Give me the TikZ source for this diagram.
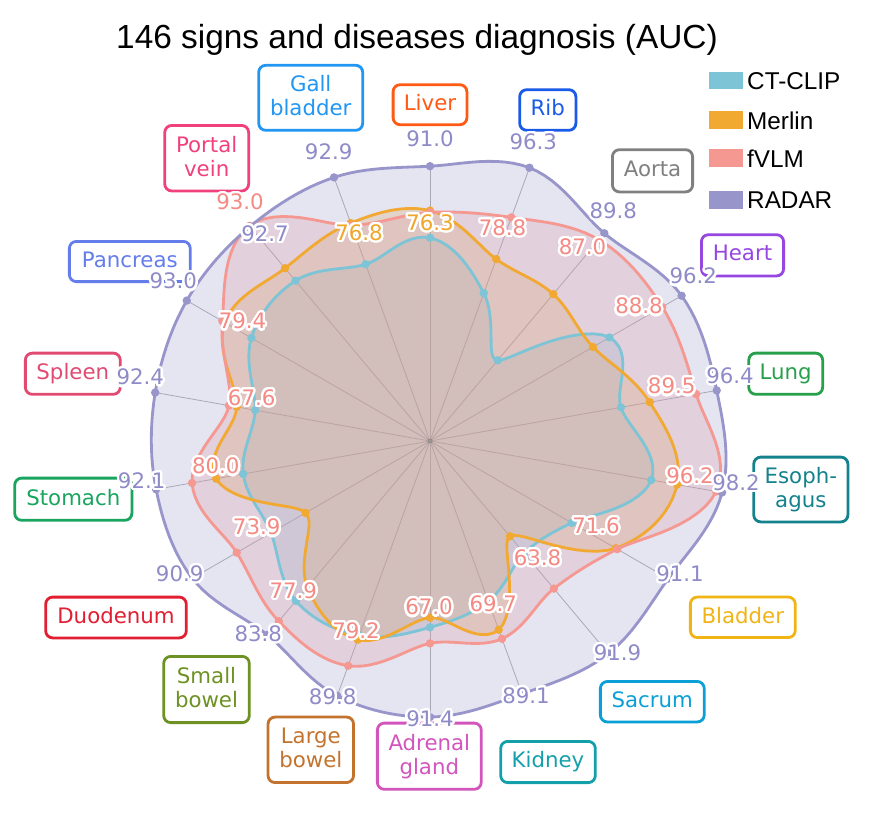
\documentclass[tikz,border=0pt]{standalone}
\usepackage{fontspec}
\setmainfont{DejaVu Sans}
\newfontfamily\arialf{Liberation Sans}
\usepackage[copies]{contour}
\contourlength{2.3pt}
\contournumber{24}

\definecolor{cclip}{RGB}{124,196,214}
\definecolor{merlin}{RGB}{241,169,50}
\definecolor{fvlm}{RGB}{245,152,146}
\definecolor{radar}{RGB}{152,149,203}
\definecolor{radartxt}{RGB}{142,139,200}
\definecolor{fvlmtxt}{RGB}{245,138,132}
\definecolor{merlintxt}{RGB}{240,166,40}
\definecolor{gridc}{RGB}{176,176,176}

\definecolor{cGall}{RGB}{33,150,243}
\definecolor{cLiver}{RGB}{255,90,20}
\definecolor{cRib}{RGB}{25,90,230}
\definecolor{cAorta}{RGB}{128,128,128}
\definecolor{cHeart}{RGB}{150,70,225}
\definecolor{cLung}{RGB}{40,160,75}
\definecolor{cEsoph}{RGB}{20,130,140}
\definecolor{cBladder}{RGB}{240,180,20}
\definecolor{cSacrum}{RGB}{10,160,215}
\definecolor{cKidney}{RGB}{20,160,170}
\definecolor{cAdrenal}{RGB}{210,85,190}
\definecolor{cLarge}{RGB}{195,115,45}
\definecolor{cSmall}{RGB}{110,145,35}
\definecolor{cDuod}{RGB}{225,30,50}
\definecolor{cStomach}{RGB}{25,165,95}
\definecolor{cSpleen}{RGB}{225,75,115}
\definecolor{cPancreas}{RGB}{100,125,235}
\definecolor{cPortal}{RGB}{240,65,125}

\def\rsc{3.02}
% order: Liver, Rib, Aorta, Heart, Lung, Esophagus, Bladder, Sacrum, Kidney,
% Adrenal, Large bowel, Small bowel, Duodenum, Stomach, Spleen, Pancreas, Portal vein, Gall bladder
\def\arrA{{67.3,52.1,34.9,68.6,64.2,74.4,54.2,48.5,56.5,61.7,68.5,69.1,60.8,62.8,58.8,68.3,69.3,62.3}}
\def\arrB{{76.3,64.1,63.5,62.3,73.9,83.1,71.0,41.2,66.5,58.5,70.0,63.2,47.6,71.9,65.0,78.5,74.7,76.8}}
\def\arrC{{75.7,78.8,87.0,88.8,89.5,96.2,71.6,63.8,69.7,67.0,79.2,77.9,73.9,80.0,67.6,79.4,93.0,76.0}}
\def\arrD{{91.0,96.3,89.8,96.2,96.4,98.2,91.1,91.9,89.1,91.4,89.8,83.8,90.9,92.1,92.4,93.0,92.7,92.9}}

\newcommand\mkcurve[2]{%
  \gdef\crvtmp{}%
  \foreach \k in {0,...,17}{%
    \pgfmathtruncatemacro\cria{mod(\k+17,18)}%
    \pgfmathtruncatemacro\cric{mod(\k+1,18)}%
    \pgfmathtruncatemacro\crid{mod(\k+2,18)}%
    \pgfmathsetmacro\cra{#2[\cria]}%
    \pgfmathsetmacro\crb{#2[\k]}%
    \pgfmathsetmacro\crc{#2[\cric]}%
    \pgfmathsetmacro\crd{#2[\crid]}%
    \foreach \s in {0,...,11}{%
      \pgfmathsetmacro\cru{\s/12}%
      \pgfmathsetmacro\crr{\rsc*0.5*(2*\crb+(\crc-\cra)*\cru+(2*\cra-5*\crb+4*\crc-\crd)*\cru*\cru+(3*\crb-\cra-3*\crc+\crd)*\cru*\cru*\cru)}%
      \pgfmathsetmacro\crang{90-20*(\k+\cru)}%
      \xdef\crvtmp{\crvtmp(\crang:\crr)--}%
    }%
  }%
  \expandafter\xdef\csname #1\endcsname{\crvtmp cycle}%
}
\newcommand\mkdots[2]{%
  \foreach \k in {0,...,17}{%
    \pgfmathsetmacro\crr{\rsc*#2[\k]}%
    \fill[#1] ({90-20*\k}:\crr) circle (4.2pt);
  }%
}

\newcommand\cs{\vphantom{Agy}}
\tikzset{
  catbox/.style={draw=#1, text=#1, line width=2.8pt, rounded corners=7pt,
    fill=white, align=center, inner sep=0pt,
    font=\fontsize{21.3}{24}\selectfont},
  vlab/.style={inner sep=0pt, font=\fontsize{21.3}{24}\selectfont},
  curve/.style={line width=2.8pt, line join=round},
  legtext/.style={anchor=base west, inner sep=0pt, font=\arialf\fontsize{24.3}{29}\selectfont}
}

\begin{document}
\begin{tikzpicture}[x=1pt,y=-1pt]
\useasboundingbox (0,0) rectangle (870,815);
\fill[white] (0,0) rectangle (870,815);

\mkcurve{curveA}{\arrA}
\mkcurve{curveB}{\arrB}
\mkcurve{curveC}{\arrC}
\mkcurve{curveD}{\arrD}

\begin{scope}[shift={(430,441)}, yscale=-1]
  % grid
  \foreach \k in {0,...,17}{%
    \pgfmathsetmacro\crr{\rsc*max(\arrD[\k],\arrC[\k])}%
    \draw[gridc, line width=0.8pt] (0,0) -- ({90-20*\k}:\crr);
  }
  \coordinate (ctr) at (0,0);
  % fills
  \fill[cclip, fill opacity=0.25] \curveA;
  \fill[merlin, fill opacity=0.25] \curveB;
  \fill[fvlm, fill opacity=0.25] \curveC;
  \fill[radar, fill opacity=0.25] \curveD;
  % lines
  \draw[cclip, curve] \curveA;
  \mkdots{cclip}{\arrA}
  \draw[merlin, curve] \curveB;
  \mkdots{merlin}{\arrB}
  \draw[fvlm, curve] \curveC;
  \mkdots{fvlm}{\arrC}
  \draw[radar, curve] \curveD;
  \mkdots{radar}{\arrD}
  \draw[gray, line width=0.6pt] (ctr) circle (2pt);
  \fill[gray] (ctr) circle (0.8pt);
\end{scope}

% category boxes
\node[catbox=cGall, minimum width=104pt, minimum height=65pt] (gall) at (310.7,97.8) {Gall\cs\\bladder\cs};
\node[catbox=cLiver, minimum width=73.8pt, minimum height=40pt] (liver) at (430,104.7) {Liver\cs};
\node[catbox=cRib, minimum width=56.2pt, minimum height=40.6pt] (rib) at (547.8,110) {Rib\cs};
\node[catbox=cAorta, minimum width=80.2pt, minimum height=42.2pt] (aorta) at (652.5,170.8) {Aorta\cs};
\node[catbox=cHeart, minimum width=82.2pt, minimum height=41.2pt] (heart) at (742.5,255.3) {Heart\cs};
\node[catbox=cLung, minimum width=73.9pt, minimum height=41.2pt] (lung) at (785.7,373.7) {Lung\cs};
\node[catbox=cEsoph, minimum width=94.2pt, minimum height=64.8pt] (esoph) at (800.8,489.5) {Esoph-\cs\\agus\cs};
\node[catbox=cBladder, minimum width=104.9pt, minimum height=40.5pt] (bladder) at (742.8,617.3) {Bladder\cs};
\node[catbox=cSacrum, minimum width=103.9pt, minimum height=40.5pt] (sacrum) at (652.3,701.7) {Sacrum\cs};
\node[catbox=cKidney, minimum width=94.6pt, minimum height=41.2pt] (kidney) at (548,762) {Kidney\cs};
\node[catbox=cAdrenal, minimum width=103.9pt, minimum height=66.2pt] (adrenal) at (429.3,756.2) {Adrenal\cs\\gland\cs};
\node[catbox=cLarge, minimum width=85.5pt, minimum height=65.5pt] (large) at (310.8,749.8) {Large\cs\\bowel\cs};
\node[catbox=cSmall, minimum width=85.6pt, minimum height=66.2pt] (small) at (206.5,689.5) {Small\cs\\bowel\cs};
\node[catbox=cDuod, minimum width=140.6pt, minimum height=40.8pt] (duod) at (116,617.5) {Duodenum\cs};
\node[catbox=cStomach, minimum width=117.2pt, minimum height=42.2pt] (stomach) at (73.3,499.2) {Stomach\cs};
\node[catbox=cSpleen, minimum width=94.9pt, minimum height=41.2pt] (spleen) at (72.8,373.7) {Spleen\cs};
\node[catbox=cPancreas, minimum width=120.9pt, minimum height=40.2pt] (pancreas) at (129.8,261.5) {Pancreas\cs};
\node[catbox=cPortal, minimum width=83.9pt, minimum height=65.5pt] (portal) at (206.7,158.2) {Portal\cs\\vein\cs};

% RADAR value labels
\foreach \xx/\yy/\tt [count=\i] in {430/140/91.0, 533.3/142.7/96.3, 613.3/211.7/89.8,
   693.3/277.3/96.2, 730/376.7/96.4, 736/484/98.2, 680/575/91.1, 617.5/654/91.9,
   526/696.7/89.1, 430/720/91.4, 332.7/698.3/89.8, 258.3/635/83.8, 179.7/575/90.9,
   141.7/481.7/92.1, 140.3/378.3/92.4, 173.3/282.3/93.0, 265/235/92.7, 328.7/153.3/92.9}
  \node[vlab, text=radartxt] (rv\i) at (\xx,\yy) {\contour{white}{\tt}};

% fVLM value labels
\foreach \xx/\yy/\tt [count=\i] in {502.5/229/78.8, 582.5/247.7/87.0, 639/307.3/88.8,
   671.7/387.3/89.5, 690/476.7/96.2, 596/526.7/71.6, 537.5/559/63.8, 493.3/605/69.7,
   429/608.3/67.0, 356/631.7/79.2, 293.3/591.7/77.9, 256.7/528.3/73.9, 215.8/467.3/80.0,
   251.7/399/67.6, 242.5/322.3/79.4, 240/203.3/93.0}
  \node[vlab, text=fvlmtxt] (fv\i) at (\xx,\yy) {\contour{white}{\tt}};

% Merlin value labels
\node[vlab, text=merlintxt] (mv1) at (430,224) {\contour{white}{76.3}};
\node[vlab, text=merlintxt] (mv2) at (359,234) {\contour{white}{76.8}};

% legend
\fill[cclip] (709,71.7) rectangle (742.7,89.3);
\fill[merlin] (709,110.7) rectangle (742.7,129);
\fill[fvlm] (709,149) rectangle (742.7,167.3);
\fill[radar] (709,191) rectangle (742.7,209);
\node[legtext] (l1) at (747,89.3) {CT-CLIP};
\node[legtext] (l2) at (747,129) {Merlin};
\node[legtext] (l3) at (747,167.3) {fVLM};
\node[legtext] (l4) at (747,208.7) {RADAR};

% title
\node[anchor=base, inner sep=0pt, font=\arialf\fontsize{33.4}{40}\selectfont] (title) at (417,48) {146 signs and diseases diagnosis (AUC)};
\end{tikzpicture}
\end{document}
